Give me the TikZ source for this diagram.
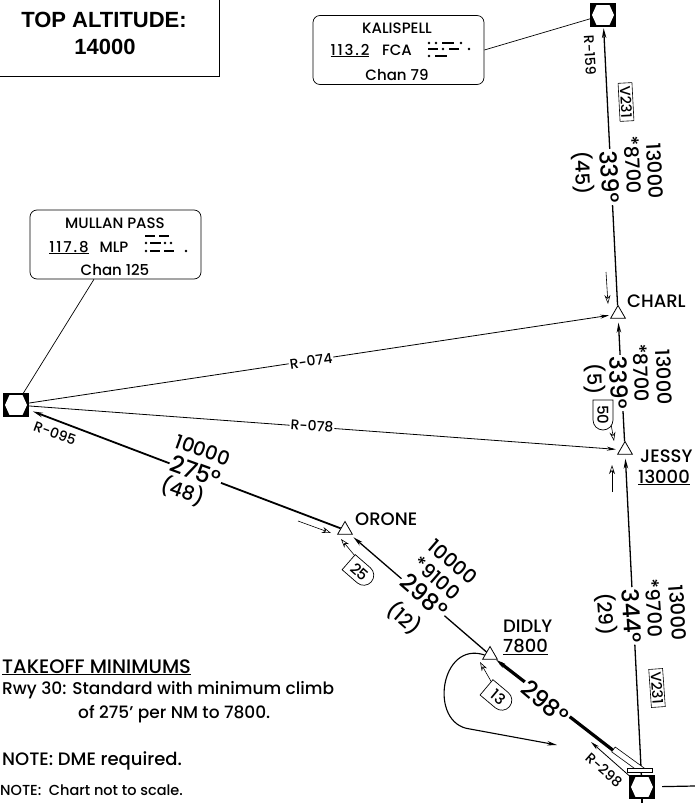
\documentclass[tikz,border=0pt]{standalone}
\usepackage{fontspec}
\setmainfont{Poppins}[UprightFont=* Medium]
\newfontfamily\headfont{Liberation Sans}
\usetikzlibrary{arrows.meta,shapes.geometric}

\newcommand{\fsz}[1]{\fontsize{#1}{#1}\selectfont}
% morse elements
\newcommand{\dit}[2]{\fill (#1,#2) circle[radius=1.3];}
\newcommand{\dah}[3]{\fill (#1,#2-1.2) rectangle (#3,#2+1.2);}
% vor/dme symbol: x, y
\newcommand{\vorsym}[2]{
	\begin{scope}[shift={(#1,#2)}]
		\fill[black] (-12,-11) rectangle (12,11);
		\fill[white] (-11,0) -- (-6.5,-10) -- (6.5,-10) -- (11,0) -- (6.5,10) -- (-6.5,10) -- cycle;
		\draw[black,line width=1.2pt] (-12,-11) rectangle (12,11);
	\end{scope}}
% D shaped box: x, y, angle, text, name
\newcommand{\dbox}[5]{
	\begin{scope}[shift={(#1,#2)},rotate=#3]
		\draw[fill=white,line width=0.7pt] (-15,-10) -- (5,-10) arc[start angle=-90,end angle=90,radius=10] -- (-15,10) -- cycle;
	\end{scope}
	\node[rotate=#3,font=\fsz{15},inner sep=0pt] (#5) at (#1,#2) {#4};}

\begin{document}
\begin{tikzpicture}[x=1pt,y=-1pt,
	airway/.style={line width=1.3pt,-{Stealth[length=10pt,width=4.5pt]}},
	radial/.style={line width=0.8pt,-{Stealth[length=9pt,width=4pt]}},
	hollow/.style={line width=0.6pt,-{Stealth[open,length=9pt,width=6pt]}},
	info/.style={line width=0.7pt},
	vor/.style={rectangle,minimum width=24pt,minimum height=22pt,inner sep=0pt},
	fix/.style={regular polygon,regular polygon sides=3,draw,fill=white,line width=0.8pt,minimum size=17pt,inner sep=0pt},
	infobox/.style={draw,rounded corners=7pt,line width=0.7pt,fill=white,minimum width=171pt,minimum height=69pt},
	boxtxt/.style={font=\fsz{15},inner sep=0pt,anchor=base},
	freq/.style={boxtxt,font=\fsz{15}\addfontfeatures{LetterSpace=12}},
	mea/.style={font=\fsz{19.5},inner sep=0pt},
	hdg/.style={font=\fsz{23.5},fill=white,inner sep=1.5pt},
	rad/.style={font=\fsz{14},inner sep=1pt},
	ident/.style={font=\fsz{18},anchor=base west,inner sep=0pt},
	vbox/.style={draw,fill=white,line width=0.6pt,font=\fsz{14.5},inner xsep=3pt,inner ysep=1.5pt},
	note/.style={font=\fsz{17},anchor=base west,inner sep=0pt}]
	\path[fill=white] (0,0) rectangle (695,803);
	\useasboundingbox (0,0) rectangle (695,803);

	% top altitude
	\draw[line width=0.8pt] (-5,-5) rectangle (219.5,76.5);
	\node[font=\headfont\bfseries\fsz{22},inner sep=0pt] (topalt) at (104,20) {TOP ALTITUDE:};
	\node[font=\headfont\bfseries\fsz{22},inner sep=0pt] (topval) at (105,47) {14000};

	% navaids and fixes
	\node[vor] (fca) at (603,15) {};
	\node[vor] (mlp) at (16,405) {};
	\node[vor] (apt) at (642,787) {};
	\node[fix] (charl) at (618,314) {};
	\node[fix] (jessy) at (625,450) {};
	\node[fix] (orone) at (345,530) {};
	\node[fix] (didly) at (490,655) {};

	% info boxes
	\node[infobox] (fcabox) at (398.5,50) {};
	\node[boxtxt] (fcaname) at (397,33) {KALISPELL};
	\node[freq] (fcafreq) at (350,55) {\underline{113.2}};
	\node[boxtxt] (fcaid) at (397,55) {FCA};
	\node[boxtxt] (fcachan) at (397,80) {Chan 79};
	\dit{429}{43}\dit{436}{43}\dah{442}{43}{454}\dit{461}{43}
	\dah{428}{49}{438}\dit{443}{49}\dah{449}{49}{459}\dit{469}{49}
	\dit{429}{56}\dah{435}{56}{447}

	\node[infobox] (mlpbox) at (115.5,244.5) {};
	\node[boxtxt] (mlpname) at (115,228) {MULLAN PASS};
	\node[freq] (mlpfreq) at (69,252) {\underline{117.8}};
	\node[boxtxt] (mlpid) at (114,252) {MLP};
	\node[boxtxt] (mlpchan) at (115,275) {Chan 125};
	\dah{145}{236}{155}\dah{159}{236}{169}
	\dit{146}{243}\dah{150}{243}{161}\dit{165}{243}\dit{171}{243}
	\dit{146}{251}\dah{150}{251}{160}\dah{164}{251}{174}\dit{186}{251}

	\draw[info] (fcabox.east) -- (fca);
	\draw[info] (mlpbox) -- (mlp);

	% routes
	\draw[airway,shorten >=2pt] (charl) -- (fca);
	\draw[airway,shorten >=4pt] (jessy) -- (charl);
	\draw[airway,shorten >=4pt] (apt) -- (jessy);
	\draw[radial,shorten >=3pt] (mlp) -- (charl);
	\draw[radial,shorten >=4pt] (mlp) -- (jessy);
	\draw[airway,line width=1.8pt,shorten >=5pt] (orone) -- (mlp);
	\draw[airway,shorten >=4pt] (didly) -- (orone);
	\coordinate (thr) at (614,751);
	\draw[airway,line width=3.2pt] (thr) -- (didly);
	\coordinate (r298) at (591,742);
	\draw[radial] (apt) -- (r298);
	\coordinate (aptE) at (695,786);
	\coordinate (aptS) at (642,803);
	\draw[line width=1.2pt,shorten <=8pt] (apt) -- (aptE);
	\draw[line width=1.2pt] (apt) -- (aptS);

	% procedure turn
	\coordinate (loopend) at (557,745);
	\draw[line width=1.1pt,-{Stealth[length=10pt,width=4.5pt]}] (didly.west) .. controls (440,640) and (428,724) .. (470,729) -- (loopend);

	% inbound course arrows
	\coordinate (ch-t) at (606,272); \coordinate (ch-h) at (608,304);
	\coordinate (je-t) at (611,424); \coordinate (je-h) at (614,441);
	\coordinate (jb-t) at (612,492); \coordinate (jb-h) at (612,465);
	\coordinate (ol-t) at (298,521); \coordinate (ol-h) at (331,533);
	\coordinate (ob-t) at (355,556); \coordinate (ob-h) at (341,539);
	\coordinate (di-t) at (492,683); \coordinate (di-h) at (480,662);
	\foreach \a in {ch,je,jb,ol,ob,di}
		\draw[hollow] (\a-t) -- (\a-h);

	% runway
	\begin{scope}[shift={(628,760)},rotate=-36]
		\draw[fill=white,line width=0.6pt] (-18,-3) rectangle (18,3);
	\end{scope}
	\draw[fill=white,line width=0.6pt] (627,768) rectangle (652,772.5);

	% leg labels
	\node[mea,rotate=-87] (fca-mea) at (655,171) {13000};
	\node[mea,rotate=-87] (fca-moca) at (633,165) {*8700};
	\node[hdg,rotate=-87] (fca-hdg) at (610,177) {339°};
	\node[mea,rotate=-87] (fca-dist) at (583,173) {(45)};
	\node[vbox,rotate=-87] (fca-vic) at (626,102) {V231};
	\node[rad,rotate=-87] (fca-rad) at (590,55) {R-159};

	\node[mea,rotate=-88] (ch-mea) at (664,377) {13000};
	\node[mea,rotate=-88] (ch-moca) at (641,373) {*8700};
	\node[hdg,rotate=-88] (ch-hdg) at (619,383) {339°};
	\node[mea,rotate=-88] (ch-dist) at (595,379) {(5)};

	\node[mea,rotate=-86] (ap-mea) at (678,613) {13000};
	\node[mea,rotate=-86] (ap-moca) at (654,608) {*9700};
	\node[hdg,rotate=-86] (ap-hdg) at (632,616) {344°};
	\node[mea,rotate=-86] (ap-dist) at (606,614) {(29)};
	\node[vbox,rotate=-86] (ap-vic) at (657,688) {V231};

	\node[mea,rotate=-20] (or-mea) at (203,450) {10000};
	\node[hdg,rotate=-20] (or-hdg) at (196,471) {275°};
	\node[mea,rotate=-20] (or-dist) at (183,491) {(48)};
	\node[rad,rotate=-20] (mlp-rad) at (55,433) {R-095};

	\node[mea,rotate=-41] (di-mea) at (453,562) {10000};
	\node[mea,rotate=-41] (di-moca) at (437,578) {*9100};
	\node[hdg,rotate=-41] (di-hdg) at (424,596) {298°};
	\node[mea,rotate=-41] (di-dist) at (404,618) {(12)};

	\node[hdg,rotate=-40] (rw-hdg) at (545,702) {298°};
	\node[rad,rotate=-41] (apt-rad) at (604,770) {R-298};

	\node[rad,fill=white,rotate=8.6] (r074) at (311,361) {R-074};
	\node[rad,fill=white,rotate=-3.9] (r078) at (312,426) {R-078};

	\dbox{603}{415}{-90}{50}{moca50}
	\dbox{360}{572}{-41}{25}{moca25}
	\dbox{498}{697}{-40}{13}{moca13}

	% fix names
	\node[ident] (charl-l) at (627,307) {CHARL};
	\node[ident] (jessy-l) at (640,462) {JESSY};
	\node[ident] (jessy-a) at (638,483) {\underline{13000}};
	\node[ident] (orone-l) at (355,525) {ORONE};
	\node[ident] (didly-l) at (503,632) {DIDLY};
	\node[ident] (didly-a) at (503,652) {\underline{7800}};

	\vorsym{603}{15}
	\vorsym{16}{405}
	\vorsym{642}{787}

	% notes
	\node[note,font=\fsz{19.5}] (tkof) at (2,673) {\underline{TAKEOFF MINIMUMS}};
	\node[note] (rwy) at (2,694) {Rwy 30: Standard with minimum climb};
	\node[note] (rwy2) at (78,718) {of 275’ per NM to 7800.};
	\node[note,font=\fsz{18}] (dme) at (2,765) {NOTE: DME required.};
	\node[note,font=\fsz{14.5}] (scale) at (0,795) {NOTE:\ \ Chart not to scale.};
\end{tikzpicture}
\end{document}
